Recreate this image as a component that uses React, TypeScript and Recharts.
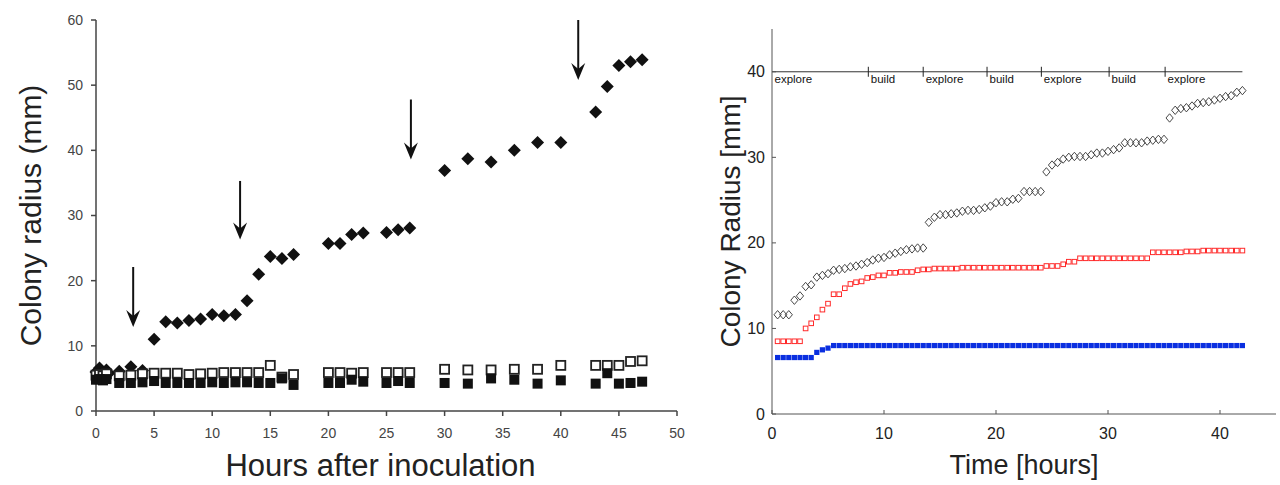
import React from 'react';
import { ScatterChart, Scatter, XAxis, YAxis, ReferenceLine, Label } from 'recharts';

// ---------- Left panel data ----------
const leftDiamondX = [0, 0.3, 0.6, 0.9, 1.1, 2, 3, 4, 5, 6, 7, 8, 9, 10, 11, 12, 13, 14, 15, 16, 17, 20, 21, 22, 23, 25, 26, 27, 30, 32, 34, 36, 38, 40, 43, 44, 45, 46, 47];
const leftDiamondY = [6.0, 6.6, 5.6, 6.3, 5.8, 6.1, 6.8, 6.2, 11.0, 13.7, 13.5, 13.9, 14.1, 14.8, 14.6, 14.8, 16.9, 21.0, 23.7, 23.4, 24.0, 25.7, 25.7, 27.1, 27.3, 27.4, 27.8, 28.1, 36.9, 38.7, 38.2, 40.0, 41.2, 41.2, 45.9, 49.8, 53.0, 53.6, 53.9];

const leftSquareX = [0, 0.3, 0.6, 0.9, 2, 3, 4, 5, 6, 7, 8, 9, 10, 11, 12, 13, 14, 15, 16, 17, 20, 21, 22, 23, 25, 26, 27, 30, 32, 34, 36, 38, 40, 43, 44, 45, 46, 47];
const leftOpenY = [5.5, 5.6, 5.4, 5.7, 5.4, 5.5, 5.7, 5.8, 5.8, 5.8, 5.6, 5.7, 5.8, 5.9, 5.9, 5.9, 5.9, 7.0, 5.2, 5.6, 5.9, 5.9, 5.8, 5.9, 5.9, 5.9, 5.9, 6.4, 6.3, 6.3, 6.4, 6.4, 7.0, 7.0, 7.0, 7.0, 7.6, 7.7];
const leftFilledY = [4.8, 4.9, 4.7, 4.9, 4.3, 4.3, 4.4, 4.6, 4.3, 4.3, 4.3, 4.3, 4.4, 4.3, 4.4, 4.4, 4.3, 4.3, 5.0, 4.0, 4.3, 4.3, 4.8, 4.5, 4.3, 4.6, 4.3, 4.3, 4.2, 5.0, 4.8, 4.2, 4.7, 4.2, 5.8, 4.2, 4.3, 4.5];

const arrowX = [3.2, 12.4, 27.1, 41.5];
const arrowTop = [22.1, 35.3, 47.8, 60];
const arrowTip = [12.9, 26.3, 38.6, 50.8];

const leftXTicks = [0, 5, 10, 15, 20, 25, 30, 35, 40, 45, 50];
const leftYTicks = [0, 10, 20, 30, 40, 50, 60];

// ---------- Right panel data ----------
const timeH = [0.5, 1, 1.5, 2, 2.5, 3, 3.5, 4, 4.5, 5, 5.5, 6, 6.5, 7, 7.5, 8, 8.5, 9, 9.5, 10, 10.5, 11, 11.5, 12, 12.5, 13, 13.5, 14, 14.5, 15, 15.5, 16, 16.5, 17, 17.5, 18, 18.5, 19, 19.5, 20, 20.5, 21, 21.5, 22, 22.5, 23, 23.5, 24, 24.5, 25, 25.5, 26, 26.5, 27, 27.5, 28, 28.5, 29, 29.5, 30, 30.5, 31, 31.5, 32, 32.5, 33, 33.5, 34, 34.5, 35, 35.5, 36, 36.5, 37, 37.5, 38, 38.5, 39, 39.5, 40, 40.5, 41, 41.5, 42];
const diamondR = [11.6, 11.6, 11.6, 13.3, 13.8, 14.9, 15.1, 16.0, 16.2, 16.4, 16.8, 16.9, 17.0, 17.2, 17.3, 17.5, 17.7, 18.0, 18.2, 18.3, 18.6, 18.8, 19.0, 19.2, 19.3, 19.4, 19.4,
  22.4, 23.0, 23.3, 23.3, 23.4, 23.5, 23.7, 23.8, 23.8, 23.9, 24.1, 24.3, 24.7, 24.8, 24.8, 25.1, 25.2, 26.0, 26.0, 26.0, 26.0,
  28.3, 29.1, 29.4, 29.8, 30.0, 30.1, 30.1, 30.1, 30.3, 30.5, 30.5, 30.7, 30.9, 31.1, 31.7, 31.7, 31.7, 31.7, 31.9, 32.0, 32.1, 32.1,
  34.6, 35.5, 35.7, 35.8, 36.0, 36.3, 36.4, 36.5, 36.7, 36.9, 37.1, 37.2, 37.6, 37.8];
const redR = [8.5, 8.5, 8.5, 8.5, 8.5, 10.0, 10.6, 11.3, 12.2, 12.9, 14.0, 14.0, 14.7, 15.2, 15.4, 15.5, 15.9, 16.0, 16.2, 16.2, 16.5, 16.5, 16.6, 16.6, 16.6, 16.8, 16.9, 16.9,
  17.0, 17.0, 17.0, 17.0, 17.0,
  17.1, 17.1, 17.1, 17.1, 17.1, 17.1, 17.1, 17.1, 17.1, 17.1, 17.1, 17.1, 17.1, 17.1, 17.1,
  17.3, 17.3, 17.3, 17.5, 17.8, 17.8,
  18.2, 18.2, 18.2, 18.2, 18.2, 18.2, 18.2, 18.2, 18.2, 18.2, 18.2, 18.2, 18.2,
  18.9, 18.9, 18.9, 18.9, 18.9, 18.9, 19.0, 19.0, 19.0,
  19.1, 19.1, 19.1, 19.1, 19.1, 19.1, 19.1, 19.1];
const blueR = [6.6, 6.6, 6.6, 6.6, 6.6, 6.6, 6.6, 7.2, 7.5, 7.7,
  8.0, 8.0, 8.0, 8.0, 8.0, 8.0, 8.0, 8.0, 8.0, 8.0, 8.0, 8.0, 8.0, 8.0, 8.0, 8.0, 8.0, 8.0, 8.0, 8.0, 8.0, 8.0, 8.0, 8.0, 8.0, 8.0, 8.0,
  8.0, 8.0, 8.0, 8.0, 8.0, 8.0, 8.0, 8.0, 8.0, 8.0, 8.0, 8.0, 8.0, 8.0, 8.0, 8.0, 8.0, 8.0, 8.0, 8.0, 8.0, 8.0, 8.0, 8.0, 8.0, 8.0, 8.0,
  8.0, 8.0, 8.0, 8.0, 8.0, 8.0, 8.0, 8.0, 8.0, 8.0, 8.0, 8.0, 8.0, 8.0, 8.0, 8.0, 8.0, 8.0, 8.0, 8.0];

const phaseStart = [0, 8.6, 13.5, 19.2, 24.05, 30.1, 35.1];
const phaseLabel = ['explore', 'build', 'explore', 'build', 'explore', 'build', 'explore'];
const phaseEnd = 42;
const phaseLevel = 40;

const rightTicks = [0, 10, 20, 30, 40];

// ---------- Build tables ----------
const leftDiamonds = leftDiamondX.map((x, i) => ({ x, y: leftDiamondY[i] }));
const leftOpen = leftSquareX.map((x, i) => ({ x, y: leftOpenY[i] }));
const leftFilled = leftSquareX.map((x, i) => ({ x, y: leftFilledY[i] }));
const rDiamonds = timeH.map((x, i) => ({ x, y: diamondR[i] }));
const rRed = timeH.map((x, i) => ({ x, y: redR[i] }));
const rBlue = timeH.map((x, i) => ({ x, y: blueR[i] }));
const phases = phaseStart.map((x, i) => ({ x, y: phaseLevel, label: phaseLabel[i], idx: i }));

const SANS = '"Liberation Sans", Arial, Helvetica, sans-serif';

// ---------- Shapes ----------
const FilledDiamond = (p: any) => {
  const { cx, cy } = p;
  const r = 6.5;
  return <path d={`M${cx},${cy - r}L${cx + r},${cy}L${cx},${cy + r}L${cx - r},${cy}Z`} fill="#111" />;
};
const OpenSquare = (p: any) => {
  const { cx, cy } = p;
  const s = 9;
  return <rect x={cx - s / 2} y={cy - s / 2} width={s} height={s} fill="#fff" stroke="#222" strokeWidth={1.8} />;
};
const FilledSquare = (p: any) => {
  const { cx, cy } = p;
  const s = 10;
  return <rect x={cx - s / 2} y={cy - s / 2} width={s} height={s} fill="#111" />;
};
const OpenDiamond = (p: any) => {
  const { cx, cy } = p;
  const rx = 3.6, ry = 4.2;
  return <path d={`M${cx},${cy - ry}L${cx + rx},${cy}L${cx},${cy + ry}L${cx - rx},${cy}Z`} fill="none" stroke="#333" strokeWidth={0.9} />;
};
const RedSquare = (p: any) => {
  const { cx, cy } = p;
  const s = 4.6;
  return <rect x={cx - s / 2} y={cy - s / 2} width={s} height={s} fill="#fff" stroke="#ff2a2a" strokeWidth={1} />;
};
const BlueSquare = (p: any) => {
  const { cx, cy } = p;
  const s = 5.2;
  return <rect x={cx - s / 2} y={cy - s / 2} width={s} height={s} fill="#0a2fe0" />;
};
const PhaseMark = (p: any) => {
  const { cx, cy, payload } = p;
  return (
    <g>
      {payload.idx > 0 && <line x1={cx} x2={cx} y1={cy - 5} y2={cy + 5} stroke="#222" strokeWidth={1} />}
      <text x={cx + 2.5} y={cy + 11} fontSize={11.5} fill="#111" fontFamily={SANS}>{payload.label}</text>
    </g>
  );
};

const ArrowShape = (p: any) => {
  const { x1, y1, x2, y2 } = p;
  const top = Math.min(y1, y2);
  const tip = Math.max(y1, y2);
  const x = x1;
  return (
    <g>
      <line x1={x} x2={x} y1={top} y2={tip - 8} stroke="#111" strokeWidth={2} />
      <path d={`M${x},${tip}L${x - 7},${tip - 17}L${x},${tip - 11}L${x + 7},${tip - 17}Z`} fill="#111" />
    </g>
  );
};

const RightYTick = (p: any) => {
  const { x, y, payload } = p;
  return (
    <g>
      <line x1={x + 7} x2={x + 11} y1={y} y2={y} stroke="#555" strokeWidth={1} />
      <text x={x} y={y} textAnchor="end" dominantBaseline="central" fontSize={16} fill="#222" fontFamily={SANS}>{payload.value}</text>
    </g>
  );
};
const RightXTick = (p: any) => {
  const { x, y, payload } = p;
  return (
    <g>
      <line x1={x} x2={x} y1={y - 13} y2={y - 17} stroke="#555" strokeWidth={1} />
      <text x={x} y={y + 12} textAnchor="middle" fontSize={16} fill="#222" fontFamily={SANS}>{payload.value}</text>
    </g>
  );
};

const rotLabel = (text: string, offX: number, size: number, fill: string) => (props: any) => {
  const vb = props.viewBox || { x: 0, y: 0, width: 0, height: 0 };
  const cx = vb.x + offX;
  const cy = vb.y + vb.height / 2;
  return (
    <text x={cx} y={cy} transform={`rotate(-90 ${cx} ${cy})`} textAnchor="middle" dominantBaseline="central" fontSize={size} fill={fill} fontFamily={SANS}>
      {text}
    </text>
  );
};
const horLabel = (text: string, offY: number, size: number, fill: string, dx = 0) => (props: any) => {
  const vb = props.viewBox || { x: 0, y: 0, width: 0, height: 0 };
  const cx = vb.x + vb.width / 2 + dx;
  const cy = vb.y + offY;
  return (
    <text x={cx} y={cy} textAnchor="middle" dominantBaseline="central" fontSize={size} fill={fill} fontFamily={SANS}>
      {text}
    </text>
  );
};

export default function App() {
  return (
    <div style={{ position: 'absolute', left: 0, top: 0, width: 1280, height: 485, background: '#fff', overflow: 'hidden' }}>
      <div style={{ position: 'absolute', left: 0, top: 0 }}>
        <ScatterChart width={700} height={485} margin={{ top: 20, right: 23, bottom: 0, left: 0 }}>
          <XAxis
            type="number"
            dataKey="x"
            domain={[0, 50]}
            ticks={leftXTicks}
            interval={0}
            height={74}
            axisLine={{ stroke: '#444', strokeWidth: 1.5 }}
            tickLine={{ stroke: '#444', strokeWidth: 1.5 }}
            tickSize={5}
            tickMargin={12}
            tick={{ fill: '#444', fontSize: 14, fontFamily: SANS }}
          >
            <Label content={horLabel('Hours after inoculation', 54, 31, '#222', -6)} />
          </XAxis>
          <YAxis
            type="number"
            dataKey="y"
            domain={[0, 60]}
            ticks={leftYTicks}
            interval={0}
            width={96}
            axisLine={{ stroke: '#444', strokeWidth: 1.5 }}
            tickLine={{ stroke: '#444', strokeWidth: 1.5 }}
            tickSize={5}
            tickMargin={8}
            tick={{ fill: '#444', fontSize: 14, fontFamily: SANS }}
          >
            <Label content={rotLabel('Colony radius (mm)', 30, 30, '#222')} />
          </YAxis>
          {arrowX.map((ax, i) => (
            <ReferenceLine
              key={'a' + i}
              segment={[{ x: ax, y: arrowTop[i] }, { x: ax, y: arrowTip[i] }]}
              ifOverflow="visible"
              shape={ArrowShape}
            />
          ))}
          <Scatter data={leftDiamonds} shape={FilledDiamond} isAnimationActive={false} />
          <Scatter data={leftOpen} shape={OpenSquare} isAnimationActive={false} />
          <Scatter data={leftFilled} shape={FilledSquare} isAnimationActive={false} />
        </ScatterChart>
      </div>
      <div style={{ position: 'absolute', left: 700, top: 0 }}>
        <ScatterChart width={580} height={485} margin={{ top: 29, right: 4, bottom: 0, left: 0 }}>
          <XAxis
            type="number"
            dataKey="x"
            domain={[0, 45]}
            ticks={rightTicks}
            interval={0}
            height={71}
            axisLine={{ stroke: '#555', strokeWidth: 1 }}
            tickLine={false}
            tickSize={0}
            tickMargin={13}
            tick={RightXTick}
          >
            <Label content={horLabel('Time [hours]', 51, 27, '#222')} />
          </XAxis>
          <YAxis
            type="number"
            dataKey="y"
            domain={[0, 45]}
            ticks={rightTicks}
            interval={0}
            width={72}
            axisLine={{ stroke: '#555', strokeWidth: 1 }}
            tickLine={false}
            tickSize={0}
            tickMargin={7}
            tick={RightYTick}
          >
            <Label content={rotLabel('Colony Radius [mm]', 30, 28, '#222')} />
          </YAxis>
          <ReferenceLine
            segment={[{ x: 0, y: phaseLevel }, { x: phaseEnd, y: phaseLevel }]}
            stroke="#333"
            strokeWidth={1}
            ifOverflow="visible"
          />
          <Scatter data={phases} shape={PhaseMark} isAnimationActive={false} />
          <Scatter data={rBlue} shape={BlueSquare} isAnimationActive={false} />
          <Scatter data={rRed} shape={RedSquare} isAnimationActive={false} />
          <Scatter data={rDiamonds} shape={OpenDiamond} isAnimationActive={false} />
        </ScatterChart>
      </div>
    </div>
  );
}
